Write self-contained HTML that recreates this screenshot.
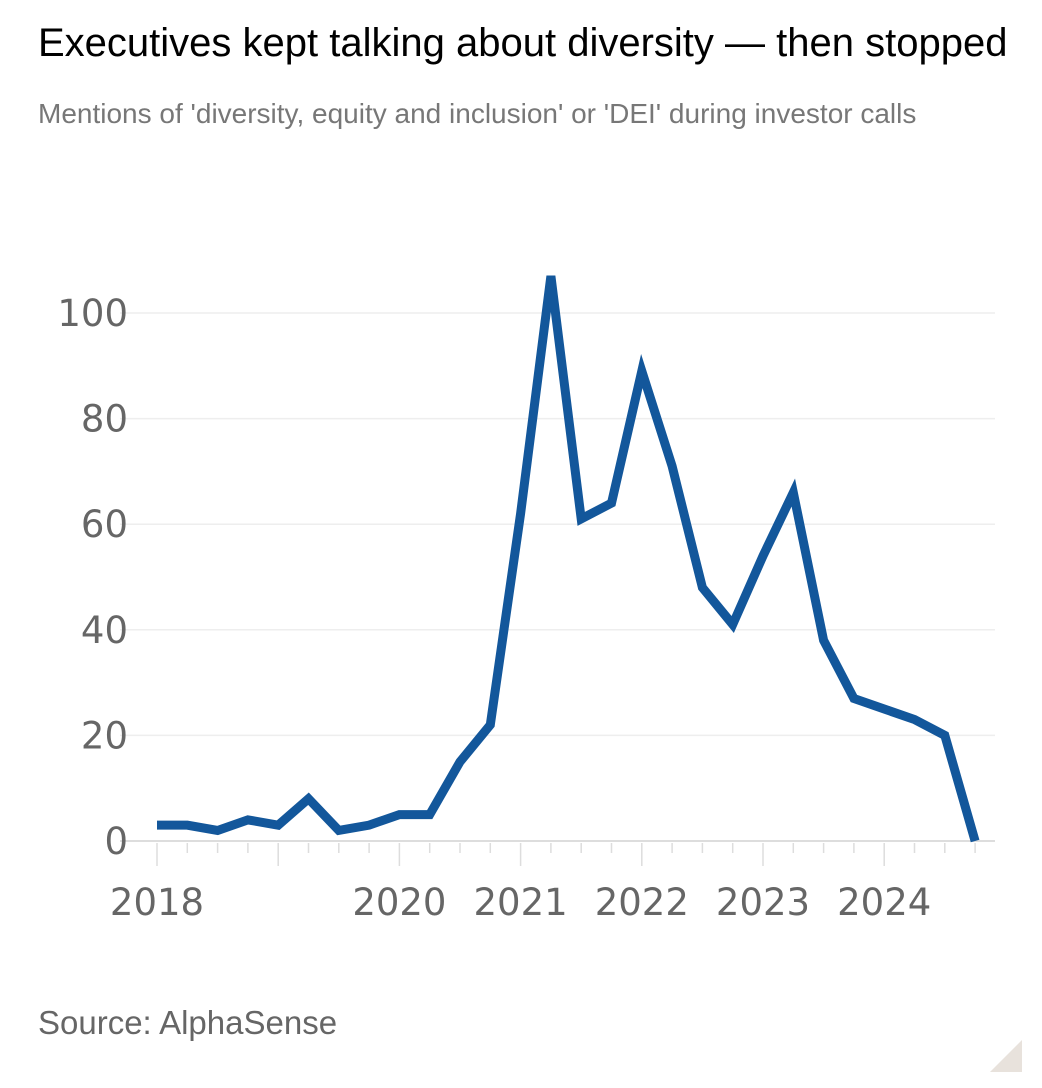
<!DOCTYPE html>
<html><head><meta charset="utf-8"><style>
body{margin:0;background:#fff;width:1042px;height:1088px;overflow:hidden;font-family:"Liberation Sans",sans-serif;}
#title{position:absolute;left:38px;top:21px;font-size:40px;color:#000;white-space:nowrap;}
#sub{position:absolute;left:38px;top:98px;font-size:28px;color:#777;white-space:nowrap;}
#src{position:absolute;left:38px;top:1004px;font-size:33px;color:#666;}
svg{position:absolute;left:0;top:0;}
</style></head><body>
<div id="title">Executives kept talking about diversity — then stopped</div>
<div id="sub">Mentions of 'diversity, equity and inclusion' or 'DEI' during investor calls</div>
<svg id="chart" width="1042" height="1088"></svg>
<div id="src">Source: AlphaSense</div>
<svg width="1042" height="1088"><polygon points="990,1072 1022,1072 1022,1040" fill="#e8e2dc"/></svg>
<script>
const values=[3,3,2,4,3,8,2,3,5,5,15,22,62,107,61,64,89,71,48,41,54,66,38,27,25,23,20,0];
const yTicks=[0,20,40,60,80,100];
const yearLabels=["2018","","2020","2021","2022","2023","2024"];
const NS="http://www.w3.org/2000/svg";
const svg=document.getElementById('chart');
const x=i=>157+i*30.3;
const y=v=>841-v*5.28;
function mk(t,a){const e=document.createElementNS(NS,t);for(const k in a)e.setAttribute(k,a[k]);svg.appendChild(e);return e;}
yTicks.forEach(t=>{
 const g=mk('line',{x1:120,x2:995,y1:y(t),y2:y(t),stroke:t===0?'#ddd':'#eee','stroke-width':t===0?2:1.5});
 
 
 const tx=mk('text',{x:128,y:y(t)+13,'text-anchor':'end','font-size':37,fill:'#666','font-family':'DejaVu Sans, sans-serif'});
 tx.textContent=t;
 
 
});
values.forEach((v,i)=>{
 const major=i%4===0;
 const l=mk('line',{x1:x(i),x2:x(i),y1:843,y2:major?866:853,stroke:'#ddd','stroke-width':1.5});
 
 
});
yearLabels.forEach((s,k)=>{
 if(!s)return;
 const tx=mk('text',{x:x(k*4),y:915,'text-anchor':'middle','font-size':37,fill:'#666','font-family':'DejaVu Sans, sans-serif'});
 tx.textContent=s;
 
 
});
const p=mk('polyline',{points:values.map((v,i)=>x(i)+','+y(v)).join(' '),fill:'none',stroke:'#13579b','stroke-width':9,'stroke-linejoin':'miter','stroke-linecap':'butt'});


</script>
</body></html>
